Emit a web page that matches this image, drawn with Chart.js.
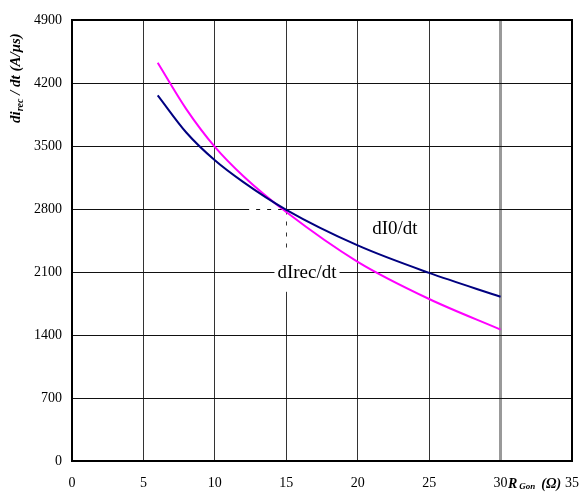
<!DOCTYPE html>
<html>
<head>
<meta charset="utf-8">
<script src="https://cdn.jsdelivr.net/npm/chart.js@4"></script>
<style>
  html, body { margin: 0; padding: 0; background: #fff; }
  #wrap { width: 584px; height: 495px; position: relative; }
</style>
</head>
<body>
<div id="wrap"><canvas id="chart"></canvas></div>
<script>
// gate resistance (ohm)
const rgon = [6, 8, 10, 12, 15, 20, 25, 30];
// dI0/dt and dIrec/dt (A/us)
const dI0 = [4063, 3650, 3341, 3098, 2790, 2395, 2090, 1825];
const dIrec = [4425, 3910, 3490, 3164, 2766, 2213, 1800, 1460];

const xTicks = [0, 5, 10, 15, 20, 25, 30, 35];
const yTicks = [0, 700, 1400, 2100, 2800, 3500, 4200, 4900];

const serif = '"Liberation Serif", "Times New Roman", serif';

function toPoints(xs, ys) {
    return xs.map((x, i) => ({ x: x, y: ys[i] }));
}

// curve labels, frame, axis titles
const decorPlugin = {
    id: 'decor',
    afterDraw(chart) {
        const ctx = chart.ctx;
        const a = chart.chartArea;
        const xs = chart.scales.x;
        const ys = chart.scales.y;
        ctx.save();

        // white drop marks near the crossing
        ctx.strokeStyle = '#fff';
        ctx.lineWidth = 2;
        ctx.setLineDash([7, 4]);
        ctx.beginPath();
        ctx.moveTo(xs.getPixelForValue(12.4), ys.getPixelForValue(2800));
        ctx.lineTo(xs.getPixelForValue(14.7), ys.getPixelForValue(2800));
        ctx.moveTo(xs.getPixelForValue(15), ys.getPixelForValue(2740));
        ctx.lineTo(xs.getPixelForValue(15), ys.getPixelForValue(2250));
        ctx.stroke();
        ctx.setLineDash([]);

        // curve labels
        ctx.font = '19px ' + serif;
        ctx.textAlign = 'center';
        ctx.textBaseline = 'middle';
        let px = xs.getPixelForValue(16.45), py = ys.getPixelForValue(2091);
        const w = ctx.measureText('dIrec/dt').width;
        ctx.fillStyle = '#fff';
        ctx.fillRect(px - w / 2 - 3, py - 19, w + 6, 38);
        ctx.fillStyle = '#000';
        ctx.fillText('dIrec/dt', px, py);
        px = xs.getPixelForValue(22.6); py = ys.getPixelForValue(2578);
        ctx.fillText('dI0/dt', px, py);

        // frame
        ctx.strokeStyle = '#000';
        ctx.lineWidth = 2;
        ctx.strokeRect(a.left, a.top, a.right - a.left, a.bottom - a.top);

        // y axis title, rotated
        ctx.translate(16, 123);
        ctx.rotate(-Math.PI / 2);
        ctx.textAlign = 'left';
        ctx.textBaseline = 'middle';
        let x = 0;
        ctx.font = 'bold italic 15px ' + serif;
        ctx.fillText('di', x, 0); x += ctx.measureText('di').width;
        ctx.font = 'bold italic 10px ' + serif;
        ctx.fillText('rec', x, 4); x += ctx.measureText('rec').width;
        ctx.font = 'bold italic 15px ' + serif;
        ctx.fillText(' / dt (A/\u03bcs)', x, 0);
        ctx.restore();

        // x axis title
        ctx.save();
        ctx.fillStyle = '#000';
        ctx.textAlign = 'left';
        ctx.textBaseline = 'middle';
        x = 508;
        const y = 484;
        ctx.font = 'bold italic 14px ' + serif;
        ctx.fillText('R', x, y); x += ctx.measureText('R').width + 2;
        ctx.font = 'bold italic 9px ' + serif;
        ctx.fillText('Gon', x, y + 3); x += ctx.measureText('Gon').width + 6;
        ctx.font = 'bold italic 14px ' + serif;
        ctx.fillText('(\u03a9)', x, y);
        ctx.restore();
    }
};

new Chart(document.getElementById('chart'), {
    type: 'line',
    data: {
        datasets: [{
            label: 'dI0/dt',
            data: toPoints(rgon, dI0),
            borderColor: '#000080',
            borderWidth: 2,
            pointRadius: 0,
            cubicInterpolationMode: 'monotone',
            fill: false
        }, {
            label: 'dIrec/dt',
            data: toPoints(rgon, dIrec),
            borderColor: '#ff00ff',
            borderWidth: 2,
            pointRadius: 0,
            cubicInterpolationMode: 'monotone',
            fill: false
        }]
    },
    options: {
        responsive: true,
        maintainAspectRatio: false,
        animation: false,
        layout: { padding: { left: 0, top: 20, right: 12, bottom: 0 } },
        plugins: {
            legend: { display: false },
            tooltip: { enabled: false }
        },
        scales: {
            x: {
                type: 'linear',
                min: 0,
                max: 35,
                afterBuildTicks: (scale) => { scale.ticks = xTicks.map(v => ({ value: v })); },
                afterFit: (scale) => {
                    scale.height = 34;
                    scale.paddingLeft = 0;
                    scale.paddingRight = 0;
                },
                grid: {
                    drawTicks: false,
                    color: (c) => c.tick && c.tick.value === 30 ? '#999' : '#333',
                    lineWidth: (c) => c.tick && c.tick.value === 30 ? 3 : 1
                },
                border: { display: false },
                ticks: {
                    padding: 14,
                    color: '#000',
                    font: { family: serif, size: 14 },
                    maxRotation: 0,
                    callback: (v) => String(v)
                }
            },
            y: {
                min: 0,
                max: 4900,
                afterBuildTicks: (scale) => { scale.ticks = yTicks.map(v => ({ value: v })); },
                afterFit: (scale) => {
                    scale.width = 72;
                    scale.paddingTop = 0;
                    scale.paddingBottom = 0;
                },
                grid: { drawTicks: false, color: '#111', lineWidth: 1 },
                border: { display: false },
                ticks: {
                    padding: 10,
                    color: '#000',
                    font: { family: serif, size: 14 },
                    callback: (v) => String(v)
                }
            }
        }
    },
    plugins: [decorPlugin]
});
</script>
</body>
</html>
